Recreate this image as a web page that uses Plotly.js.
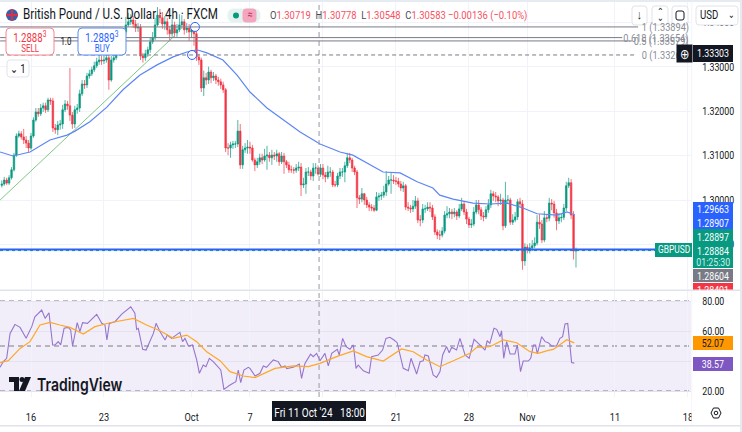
<!DOCTYPE html>
<html>
<head>
<meta charset="utf-8">
<script src="https://cdn.plot.ly/plotly-3.0.1.min.js"></script>
<style>html,body{margin:0;padding:0;background:#fff}</style>
</head>
<body>
<div id="chart"></div>
<script>
// bar index 0 = Mon 16 Sep, six 4h bars per trading day
var firstBar = -12;
var opens = [
1.3033,1.3036,1.3045,1.3038,1.3050,1.3068,1.3101,1.3144,1.3149,1.3142,
1.3135,1.3128,1.3117,1.3144,1.3180,1.3198,1.3194,1.3207,1.3212,1.3203,
1.3225,1.3223,1.3162,1.3158,1.3169,1.3171,1.3203,1.3216,1.3212,1.3191,
1.3171,1.3203,1.3207,1.3239,1.3261,1.3259,1.3279,1.3284,1.3293,1.3302,
1.3311,1.3315,1.3313,1.3315,1.3320,1.3270,1.3315,1.3320,1.3338,1.3356,
1.3360,1.3378,1.3394,1.3401,1.3405,1.3396,1.3387,1.3389,1.3324,1.3320,
1.3329,1.3338,1.3356,1.3365,1.3394,1.3416,1.3410,1.3396,1.3401,1.3383,
1.3374,1.3394,1.3376,1.3383,1.3394,1.3401,1.3383,1.3387,1.3378,1.3383,
1.3374,1.3322,1.3315,1.3252,1.3275,1.3270,1.3288,1.3275,1.3279,1.3270,
1.3266,1.3259,1.3248,1.3117,1.3117,1.3124,1.3126,1.3126,1.3155,1.3079,
1.3113,1.3117,1.3119,1.3117,1.3090,1.3079,1.3086,1.3095,1.3090,1.3099,
1.3101,1.3095,1.3101,1.3099,1.3104,1.3086,1.3099,1.3086,1.3079,1.3068,
1.3068,1.3067,1.3072,1.3074,1.3034,1.3036,1.3063,1.3063,1.3054,1.3072,
1.30719,1.3058,1.3072,1.3056,1.3052,1.3063,1.3063,1.3034,1.3034,1.3054,
1.3063,1.3063,1.3077,1.3095,1.3090,1.3072,1.3063,1.3005,1.3002,1.3014,
1.3000,1.2989,1.2984,1.2982,1.2977,1.3007,1.3009,1.3011,1.3018,1.3036,
1.3045,1.3045,1.3043,1.3042,1.3036,1.3027,1.3032,1.2984,1.2982,1.2980,
1.2986,1.2998,1.2955,1.2955,1.2980,1.2980,1.2984,1.2982,1.2962,1.2928,
1.2921,1.2921,1.2930,1.2966,1.2969,1.2973,1.2969,1.2973,1.2964,1.2980,
1.2991,1.2973,1.2957,1.2944,1.2946,1.2973,1.2989,1.2978,1.2964,1.2962,
1.2978,1.2989,1.3014,1.3009,1.3007,1.2998,1.3000,1.2942,1.3000,1.3000,
1.2950,1.2955,1.2962,1.2996,1.2991,1.2863,1.2894,1.2890,1.2892,1.2897,
1.2903,1.2950,1.2946,1.2910,1.2960,1.2959,1.2993,1.2991,1.2971,1.2953,
1.2960,1.2961,1.2982,1.3032,1.3039,1.2966,1.2885];
var highs = [
1.3044,1.3052,1.3050,1.3056,1.3074,1.3106,1.3150,1.3156,1.3155,1.3160,
1.3144,1.3135,1.3151,1.3186,1.3207,1.3207,1.3216,1.3219,1.3219,1.3230,
1.3230,1.3230,1.3171,1.3178,1.3180,1.3214,1.3225,1.3223,1.3297,1.3198,
1.3212,1.3216,1.3248,1.3270,1.3270,1.3286,1.3293,1.3300,1.3311,1.3320,
1.3329,1.3324,1.3327,1.3331,1.3329,1.3324,1.3329,1.3347,1.3365,1.3372,
1.3387,1.3412,1.3421,1.3418,1.3414,1.3405,1.3398,1.3396,1.3331,1.3338,
1.3345,1.3365,1.3378,1.3410,1.3434,1.3430,1.3423,1.3414,1.3410,1.3392,
1.3407,1.3401,1.3396,1.3418,1.3416,1.3407,1.3398,1.3396,1.3392,1.3390,
1.3381,1.3329,1.3320,1.3291,1.3286,1.3300,1.3293,1.3288,1.3284,1.3277,
1.3273,1.3266,1.3252,1.3128,1.3131,1.3133,1.3133,1.3180,1.3171,1.3122,
1.3128,1.3135,1.3131,1.3124,1.3095,1.3095,1.3104,1.3104,1.3115,1.3122,
1.3108,1.3113,1.3108,1.3113,1.3108,1.3108,1.3106,1.3090,1.3086,1.3077,
1.3074,1.3081,1.3086,1.3083,1.3050,1.3072,1.3074,1.3068,1.3083,1.3083,
1.30778,1.3081,1.3081,1.3063,1.3077,1.3074,1.3068,1.3043,1.3061,1.3072,
1.3072,1.3086,1.3106,1.3106,1.3095,1.3077,1.3068,1.3011,1.3027,1.3016,
1.3007,1.2995,1.2991,1.2989,1.3018,1.3016,1.3018,1.3032,1.3065,1.3054,
1.3061,1.3056,1.3052,1.3050,1.3043,1.3041,1.3036,1.2995,1.2989,1.3000,
1.3009,1.3005,1.2966,1.2991,1.2989,1.2995,1.2995,1.2989,1.2968,1.2934,
1.2932,1.2939,1.2975,1.2986,1.2982,1.2980,1.2982,1.2977,1.2991,1.3005,
1.2998,1.2980,1.2962,1.2957,1.2984,1.3000,1.3000,1.2984,1.2973,1.2986,
1.3002,1.3023,1.3020,1.3018,1.3011,1.3014,1.3005,1.3041,1.3011,1.3005,
1.2968,1.2973,1.3002,1.3005,1.3000,1.2903,1.2900,1.2903,1.2910,1.2916,
1.2966,1.2968,1.2955,1.2975,1.2968,1.3005,1.3002,1.2998,1.2980,1.2971,
1.2970,1.2991,1.3041,1.3050,1.3047,1.2975,1.2893];
var lows = [
1.3028,1.3032,1.3034,1.3034,1.3046,1.3064,1.3097,1.3140,1.3136,1.3126,
1.3117,1.3108,1.3113,1.3140,1.3176,1.3187,1.3189,1.3198,1.3196,1.3198,
1.3214,1.3153,1.3149,1.3146,1.3158,1.3160,1.3198,1.3203,1.3178,1.3160,
1.3162,1.3194,1.3198,1.3234,1.3250,1.3252,1.3273,1.3279,1.3288,1.3297,
1.3304,1.3304,1.3306,1.3309,1.3248,1.3266,1.3309,1.3315,1.3331,1.3349,
1.3354,1.3372,1.3390,1.3394,1.3387,1.3378,1.3378,1.3315,1.3309,1.3313,
1.3322,1.3331,1.3351,1.3360,1.3390,1.3398,1.3385,1.3383,1.3372,1.3358,
1.3367,1.3367,1.3367,1.3378,1.3385,1.3372,1.3376,1.3358,1.3365,1.3347,
1.3313,1.3304,1.3243,1.3234,1.3259,1.3261,1.3263,1.3268,1.3261,1.3257,
1.3250,1.3241,1.3108,1.3101,1.3095,1.3115,1.3117,1.3119,1.3070,1.3070,
1.3106,1.3104,1.3104,1.3086,1.3065,1.3072,1.3079,1.3081,1.3086,1.3068,
1.3086,1.3079,1.3090,1.3086,1.3077,1.3081,1.3059,1.3072,1.3061,1.3061,
1.3059,1.3061,1.3065,1.3009,1.3027,1.3014,1.3054,1.3045,1.3043,1.3059,
1.30548,1.3052,1.3047,1.3040,1.3047,1.3052,1.3029,1.3029,1.3029,1.3047,
1.3052,1.3040,1.3072,1.3083,1.3063,1.3056,1.2982,1.2991,1.2995,1.2989,
1.2982,1.2975,1.2975,1.2973,1.2975,1.2998,1.3000,1.3005,1.3009,1.3032,
1.3014,1.3036,1.3034,1.3029,1.3020,1.3018,1.2977,1.2975,1.2971,1.2973,
1.2980,1.2948,1.2941,1.2948,1.2971,1.2975,1.2973,1.2955,1.2921,1.2912,
1.2910,1.2916,1.2925,1.2959,1.2959,1.2957,1.2961,1.2955,1.2959,1.2975,
1.2966,1.2946,1.2937,1.2937,1.2941,1.2968,1.2968,1.2955,1.2952,1.2957,
1.2971,1.2982,1.2998,1.2995,1.2986,1.2989,1.2932,1.2937,1.2991,1.2944,
1.2944,1.2950,1.2955,1.2984,1.2843,1.2852,1.2880,1.2880,1.2885,1.2892,
1.2898,1.2935,1.2903,1.2905,1.2950,1.2952,1.2977,1.2960,1.2932,1.2946,
1.2950,1.2955,1.2975,1.3027,1.2957,1.2866,1.2848];
var closes = [
1.3036,1.3045,1.3038,1.3050,1.3068,1.3101,1.3144,1.3149,1.3142,1.3135,
1.3128,1.3117,1.3144,1.3180,1.3198,1.3194,1.3207,1.3212,1.3203,1.3225,
1.3223,1.3162,1.3158,1.3169,1.3171,1.3203,1.3216,1.3212,1.3191,1.3171,
1.3203,1.3207,1.3239,1.3261,1.3259,1.3279,1.3284,1.3293,1.3302,1.3311,
1.3315,1.3313,1.3315,1.3320,1.3270,1.3315,1.3320,1.3338,1.3356,1.3360,
1.3378,1.3394,1.3401,1.3405,1.3396,1.3387,1.3389,1.3324,1.3320,1.3329,
1.3338,1.3356,1.3365,1.3394,1.3416,1.3410,1.3396,1.3401,1.3383,1.3374,
1.3394,1.3376,1.3383,1.3394,1.3401,1.3383,1.3387,1.3378,1.3383,1.3374,
1.3322,1.3315,1.3252,1.3275,1.3270,1.3288,1.3275,1.3279,1.3270,1.3266,
1.3259,1.3248,1.3117,1.3117,1.3124,1.3126,1.3126,1.3155,1.3079,1.3113,
1.3117,1.3119,1.3117,1.3090,1.3079,1.3086,1.3095,1.3090,1.3099,1.3101,
1.3095,1.3101,1.3099,1.3104,1.3086,1.3099,1.3086,1.3079,1.3068,1.3068,
1.3067,1.3072,1.3074,1.3034,1.3036,1.3063,1.3063,1.3054,1.3072,1.3072,
1.30583,1.3072,1.3056,1.3052,1.3063,1.3063,1.3034,1.3034,1.3054,1.3063,
1.3063,1.3077,1.3095,1.3090,1.3072,1.3063,1.3005,1.3002,1.3014,1.3000,
1.2989,1.2984,1.2982,1.2977,1.3007,1.3009,1.3011,1.3018,1.3036,1.3045,
1.3045,1.3043,1.3042,1.3036,1.3027,1.3032,1.2984,1.2982,1.2980,1.2986,
1.2998,1.2955,1.2955,1.2980,1.2980,1.2984,1.2982,1.2962,1.2928,1.2921,
1.2921,1.2930,1.2966,1.2969,1.2973,1.2969,1.2973,1.2964,1.2980,1.2991,
1.2973,1.2957,1.2944,1.2946,1.2973,1.2989,1.2978,1.2964,1.2962,1.2978,
1.2989,1.3014,1.3009,1.3007,1.2998,1.3000,1.2942,1.3000,1.3000,1.2950,
1.2955,1.2962,1.2996,1.2991,1.2863,1.2894,1.2890,1.2892,1.2897,1.2903,
1.2950,1.2946,1.2910,1.2960,1.2959,1.2993,1.2991,1.2971,1.2953,1.2960,
1.2961,1.2982,1.3032,1.3039,1.2966,1.2885,1.28884];

var maBars = [-12.7,-7.4,-0.4,7.8,14.8,18.1,24.2,31.2,37.8,44.8,51.8,58.4,64.1,68.2,72.3,78.9,84.7,90,97,103.6,110.6,118.8,127,132.3,138.1,144.7,151.7,158.7,165.2,168,173.5,181.7,188.7,195.6,202.2,208,216.2,220.3,223.6];
var maValues = [1.3108,1.3099,1.3108,1.3135,1.3146,1.3155,1.3176,1.3209,1.3248,1.3281,1.3304,1.3322,1.3333,1.3338,1.3331,1.3315,1.3281,1.3243,1.3207,1.3180,1.3153,1.3126,1.3108,1.3101,1.3083,1.3063,1.3061,1.3041,1.3027,1.3011,1.3002,1.2993,1.2991,1.2993,1.2982,1.2969,1.2966,1.2973,1.29663];

var rsiBars = [-12.7,-11.4,-10,-8.6,-6.6,-4.5,-2,0.3,1.6,4.4,5.8,7.4,8.9,9.9,11.2,12.2,13.6,15.3,16.3,17.1,19,20.1,21.2,23.2,27,29.1,30.4,31.2,32.2,34.5,37.3,41,42.7,43.4,44.1,45.9,47.3,50.3,51.4,53,55.1,56,57.8,61.2,62.3,63.3,64.7,66.4,68.1,69.2,70.8,71.9,73.3,74.9,78,79.3,81.8,84.2,85.2,86.2,87.5,89.3,
90,92.1,94.1,95.5,96.8,99.6,101.6,103,104.4,105.1,107.8,110.3,111.2,112.6,114.9,116,117.4,118.8,120.8,122.2,123.6,125.9,126.7,128.1,129.5,131.1,132.5,133.6,134.5,136.6,139,140,142.7,144.5,145.9,147.5,149.2,150.5,153,155.1,156.2,158.5,159.9,161.2,161.9,163.3,165.3,166.7,168.1,169.2,170.8,171.9,172.9,174.9,176.3,178.4,180.1,182.1,184.5,186.6,187.5,188.6,
190.3,191.4,192.8,193.4,194.3,195.5,196.9,198.9,199.9,201.2,202.3,204.4,205.4,206.5,207.4,208.1,209.9,211.3,212.6,214,216,217.4,218.5,219.5,220.6,222.2,223.3];
var rsiValues = [35.8,39.6,41.8,58.4,64.4,62.4,55.1,62.9,69.5,74,68.4,72.2,50.7,50.7,52.9,50.7,61.8,62.4,60.7,50,65.6,59.6,65.6,65.1,71.1,65.1,64,54,65.1,66.2,71.3,76.2,71.8,61.1,61.8,47.8,47.3,58.4,65.1,59.6,54,57.3,55.1,59.1,52.9,55.1,50,50.7,40.7,31.8,37.3,36.2,41.8,39.6,34,21.1,24,26.2,34,25.6,34,35.8,
35.1,30,31.8,36.7,35.8,40.7,39.6,35.8,36.7,34.9,35.8,38,28.4,38.4,44.6,42.9,45.1,40.2,45.1,36.7,45.1,47.8,44,55.1,49.6,47.8,50.7,35.1,37.3,33.5,31.8,42.9,44,47.3,55.1,55.8,54,52.2,35.1,33.5,41.8,31.3,39.5,40.2,44,43.3,30.7,29.1,32.9,44,49.6,45.5,49.1,47.3,55.1,44,41.8,54.4,50.7,47.3,53.5,51.8,
61.8,61.1,56.2,60.2,41.8,52.9,44.7,44.7,50.7,32.9,40,40,41.8,50.7,50.7,44.7,56.2,52.9,52.2,50,50,55.1,56.2,64.7,65.1,38.9,38.57];
var rsiMaBars = [-12.7,-9.3,-4.5,-0.4,3.7,7.8,11.9,16,21.5,26.3,32.5,42.1,47.5,53,58.5,64,68.1,72.2,77.7,81.8,87.3,92.1,100.3,107.8,114,118.8,125.6,132.5,137.9,144.8,152.3,157.1,162.6,168.1,173.6,180.4,183.2,188.6,194.1,199.6,205.1,208.5,212.6,214.7,220.2,223.3];
var rsiMaValues = [38.9,40.2,48.4,52.9,64,65.8,64,62.4,58,62.9,65.5,68.4,64,60.2,55.1,57.3,52.9,46.2,40.2,32.9,30,28.9,35.1,36.7,36.2,38.4,42.9,46.7,42.9,40,48,46.2,40.7,36.2,40.2,45.1,49.1,49.5,54,52.2,46.2,45.1,47.1,47.7,54.2,52.07];

var tickBars = [0,30,66,90,120,150,180,204,240,270];
var tickLabels = ['16','23','Oct','7','','21','28','Nov','11','18'];
var priceTicks = [1.29,1.30,1.31,1.32,1.33,1.34];
var rsiTicks = [20,40,60,80];
var rsiGuides = [80,50,20];

var fibLevels = [1.33894,1.33654,1.33579,1.33263];
var fibNames = ['1','0.618','0.5','0'];
var fibEndBars = [249.5,243,247,249];
var trendBars = [-12.7,58.9];
var trendValues = [1.3000,1.3369];
var lastPrice = 1.28884;
var crosshairBar = 118.4;

var bars = opens.map(function(o, i) { return firstBar + i; });
var green = '#089981', red = '#f23645', ink = '#131722', blue = '#2962ff', grey = '#787b86';
var uiFont = 'Roboto, sans-serif';
var squeeze = 0.8; // reference text is horizontally condensed

// pixel helpers for the platform furniture around the chart
var plotW = 691, plotH = 397;
function px(x) { return x / plotW; }
function py(y) { return 1 - y / plotH; }

var shapes = [], notes = [];

function box(x0, y0, x1, y1, fill, stroke) {
  shapes.push({type: 'rect', xref: 'paper', yref: 'paper', x0: px(x0), x1: px(x1), y0: py(y0), y1: py(y1),
    fillcolor: fill, line: {color: stroke || fill, width: stroke ? 1 : 0}, layer: 'above'});
}
function rbox(x0, y0, x1, y1, r, fill, stroke) {
  var d = 'M' + px(x0 + r) + ',' + py(y0) + ' L' + px(x1 - r) + ',' + py(y0) + ' Q' + px(x1) + ',' + py(y0) + ' ' + px(x1) + ',' + py(y0 + r) +
    ' L' + px(x1) + ',' + py(y1 - r) + ' Q' + px(x1) + ',' + py(y1) + ' ' + px(x1 - r) + ',' + py(y1) +
    ' L' + px(x0 + r) + ',' + py(y1) + ' Q' + px(x0) + ',' + py(y1) + ' ' + px(x0) + ',' + py(y1 - r) +
    ' L' + px(x0) + ',' + py(y0 + r) + ' Q' + px(x0) + ',' + py(y0) + ' ' + px(x0 + r) + ',' + py(y0) + ' Z';
  shapes.push({type: 'path', xref: 'paper', yref: 'paper', path: d, fillcolor: fill, line: {color: stroke, width: 1}, layer: 'above'});
}
function text(x, y, str, size, color, anchor, extra) {
  var n = {xref: 'paper', yref: 'paper', x: px(x), y: py(y), text: str, showarrow: false,
    xanchor: anchor || 'center', align: anchor || 'center', yanchor: 'middle', borderpad: 0,
    font: {family: uiFont, size: size, color: color}};
  for (var k in (extra || {})) n[k] = extra[k];
  notes.push(n);
}
function circle(cx, cy, r, fill, stroke) {
  shapes.push({type: 'circle', xref: 'paper', yref: 'paper', x0: px(cx - r), x1: px(cx + r), y0: py(cy - r), y1: py(cy + r),
    fillcolor: fill, line: {color: stroke || fill, width: stroke ? 1 : 0}, layer: 'above'});
}

// rsi band and guides
shapes.push({type: 'rect', xref: 'paper', yref: 'y2', x0: 0, x1: 1, y0: rsiGuides[2], y1: rsiGuides[0],
  fillcolor: 'rgba(126,87,194,0.1)', line: {width: 0}, layer: 'below'});
rsiGuides.forEach(function(v) {
  shapes.push({type: 'line', xref: 'paper', yref: 'y2', x0: 0, x1: 1, y0: v, y1: v,
    line: {color: grey, width: 1, dash: '5px,4px'}, layer: 'below'});
});
// last price line
shapes.push({type: 'line', xref: 'paper', yref: 'y', x0: 0, x1: 1, y0: lastPrice - 0.00022, y1: lastPrice - 0.00022,
  line: {color: green, width: 1, dash: 'dot'}, layer: 'above'});
shapes.push({type: 'line', xref: 'paper', yref: 'y', x0: 0, x1: 1, y0: lastPrice, y1: lastPrice,
  line: {color: blue, width: 2}, layer: 'above'});
// crosshair
shapes.push({type: 'line', xref: 'x', yref: 'paper', x0: crosshairBar, x1: crosshairBar, y0: 0, y1: 1,
  line: {color: '#9598a1', width: 1, dash: '5px,4px'}, layer: 'above'});
// pane separators and window edges
box(0, 289.5, 742, 291, '#e0e3eb');
box(0, 0, 742, 2, '#e6ebf2');
box(691.5, 0, 692.2, 425, '#eef0f4');
box(692, 398, 742, 425, '#ffffff');
box(0, 425, 742, 426.5, '#e0e3eb');
box(740, 0, 742, 432, '#e6ebf2');

// fibonacci levels
fibLevels.forEach(function(v, i) {
  shapes.push({type: 'line', xref: 'x', yref: 'y', x0: -12.7, x1: fibEndBars[i], y0: v, y1: v,
    line: {color: grey, width: 1, dash: i === 3 ? '4px,3px' : 'solid'}, layer: 'above'});
  text(690, 200 - (v - 1.30) * 4440, fibNames[i] + ' (' + v.toFixed(5) + ')', 11.5, '#8a8d96', 'right');
});

// header
text(22, 15, 'British Pound / U.S. Dollar · 4h · FXCM', 14.5, ink, 'left');
circle(12, 15, 6, '#3a5fa8');
box(6, 14, 18, 16, '#d8324a');
box(11, 9, 13, 21, '#d8324a');
rbox(228, 9, 260, 22, 6, '#e4f3ef', '#e4f3ef');
circle(236, 15.5, 3, green);
rbox(243, 9, 256, 22, 3, '#f3a6bd', '#f3a6bd');
text(249.5, 15, '≈', 11, '#b3335a');
var ohlc = [['O', '1.30719'], ['H', '1.30778'], ['L', '1.30548'], ['C', '1.30583']];
var ohlcText = ohlc.map(function(p) {
  return '<span style="color:' + '#4a4d57' + '">' + p[0] + '</span>' + p[1];
}).join('  ') + ' −0.00136 (−0.10%)';
text(269, 15, ohlcText, 11.8, '#f7525f', 'left');

// sell / buy
rbox(6, 28, 54, 55, 4, '#ffffff', '#f7858f');
text(30, 37, '1.2888<sup>3</sup>', 12, red);
text(30, 48, 'SELL', 10, red);
text(66, 42, '1.0', 10, ink);
rbox(78, 28, 126, 55, 4, '#ffffff', '#5b8cf5');
text(102, 37, '1.2889<sup>3</sup>', 12, blue);
text(102, 48, 'BUY', 10, blue);
rbox(7, 60, 29, 77, 3, '#ffffff', '#e0e3eb');
text(18, 69, '⌄ 1', 12, ink);

// top right buttons
rbox(632, 6, 647, 25, 3, '#ffffff', '#e0e3eb');
text(639.5, 15, '↓', 13, ink);
rbox(652, 6, 668, 25, 3, '#ffffff', '#e0e3eb');
text(660, 18, '⌄', 10, ink);
text(660, 12, '⌃', 10, ink);
rbox(672, 6, 688, 25, 3, '#ffffff', '#e0e3eb');
rbox(676, 11, 684, 20, 2, 'rgba(0,0,0,0)', ink);
rbox(696, 6, 738, 25, 3, '#ffffff', '#e0e3eb');
text(699, 15, 'USD', 12, ink, 'left');
text(731, 15, '⌄', 10, ink);

// price tags
function tag(y0, y1, fill) { box(693, y0, 733, y1, fill); }
box(677, 45, 692, 62, ink);
text(684.5, 53.5, '⊕', 14, '#ffffff', 'center', {bgcolor: ink, width: 15, height: 17});
tag(45, 62, ink);
text(713, 53.5, '1.33303', 11, '#ffffff');
tag(202, 229, blue);
text(713, 209, '1.29663', 11, '#ffffff');
text(713, 223, '1.28907', 11, '#ffffff');
tag(229, 268, green);
text(713, 237, '1.28897', 11, '#ffffff');
text(713, 251, lastPrice.toFixed(5), 11, '#ffffff');
text(713, 262, '01:25:30', 11, '#cdeee6');
tag(269, 282, '#787b86');
text(713, 276, '1.28604', 11, '#ffffff');
tag(283, 289.5, red);
text(713, 283, '1.28401', 11, '#ffffff', 'center', {yanchor: 'top', height: 7, valign: 'top'});
box(655, 243, 692, 257, green);
text(673.5, 250, 'GBPUSD', 10.5, '#ffffff');
box(693, 336, 733, 350, '#ff9800');
text(713, 343, '52.07', 11, ink);
box(693, 357, 733, 371, '#7e57c2');
text(713, 364, '38.57', 11, '#ffffff');

// date label and logo
box(272, 401, 366, 421, ink);
text(319, 412, "Fri 11 Oct '24 &nbsp;&nbsp;18:00", 12.5, '#ffffff');
function logoPath(d) {
  shapes.push({type: 'path', xref: 'paper', yref: 'paper', path: d, fillcolor: ink, line: {width: 0}, layer: 'above'});
}
logoPath('M' + px(9) + ',' + py(377) + ' L' + px(19) + ',' + py(377) + ' L' + px(19) + ',' + py(391) + ' L' + px(14) + ',' + py(391) + ' L' + px(14) + ',' + py(382) + ' L' + px(9) + ',' + py(382) + ' Z');
logoPath('M' + px(25) + ',' + py(377) + ' L' + px(31) + ',' + py(377) + ' L' + px(25) + ',' + py(391) + ' L' + px(19) + ',' + py(391) + ' Z');
circle(22, 379.5, 2.5, ink);
text(36, 384, 'TradingView', 17.5, ink, 'left', {font: {family: 'Inter, sans-serif', size: 17.5, color: ink, weight: 600}});

// settings gear
shapes.push({type: 'path', xref: 'paper', yref: 'paper', layer: 'above', line: {color: ink, width: 1},
  path: 'M' + px(711) + ',' + py(413) + ' L' + px(713.5) + ',' + py(408) + ' L' + px(718.5) + ',' + py(408) + ' L' + px(721) + ',' + py(413) + ' L' + px(718.5) + ',' + py(418) + ' L' + px(713.5) + ',' + py(418) + ' Z'});
circle(716, 413, 1.8, 'rgba(0,0,0,0)', ink);

// fib anchors
function anchor(bar, price) {
  return {x: bar, y: price};
}
var anchors = [anchor(67.4, fibLevels[0]), anchor(66.2, fibLevels[3])];

var traces = [
  {type: 'candlestick', x: bars, open: opens, high: highs, low: lows, close: closes,
    increasing: {line: {color: green, width: 0.7}, fillcolor: green},
    decreasing: {line: {color: red, width: 0.7}, fillcolor: red},
    whiskerwidth: 0, hoverinfo: 'skip', xaxis: 'x', yaxis: 'y', showlegend: false},
  {type: 'scatter', mode: 'lines', x: trendBars, y: trendValues, line: {color: '#81c784', width: 1}, hoverinfo: 'skip', yaxis: 'y', showlegend: false},
  {type: 'scatter', mode: 'lines', x: maBars, y: maValues, line: {color: '#5d86f5', width: 1.2}, hoverinfo: 'skip', yaxis: 'y', showlegend: false},
  {type: 'scatter', mode: 'lines', x: rsiBars, y: rsiValues, line: {color: '#9575cd', width: 1.1}, hoverinfo: 'skip', yaxis: 'y2', showlegend: false},
  {type: 'scatter', mode: 'lines', x: rsiMaBars, y: rsiMaValues, line: {color: '#ffa726', width: 1.2}, hoverinfo: 'skip', yaxis: 'y2', showlegend: false},
  {type: 'scatter', mode: 'markers', x: anchors.map(function(a) { return a.x; }), y: anchors.map(function(a) { return a.y; }),
    marker: {size: 9, color: '#ffffff', line: {color: blue, width: 1}}, hoverinfo: 'skip', yaxis: 'y', showlegend: false}
];

var layout = {
  width: 742, height: 432,
  margin: {l: 0, r: 51, t: 0, b: 35},
  paper_bgcolor: '#ffffff', plot_bgcolor: '#ffffff',
  showlegend: false, dragmode: false, boxgap: 0.12,
  xaxis: {
    range: [-12.74, 271.27], anchor: 'y2', rangeslider: {visible: false},
    tickmode: 'array', tickvals: tickBars, ticktext: tickLabels,
    tickfont: {family: uiFont, size: 11.5, color: ink},
    ticks: 'outside', ticklen: 9, tickcolor: 'rgba(0,0,0,0)',
    showgrid: true, gridcolor: '#f0f3fa', zeroline: false, showline: false
  },
  yaxis: {
    domain: [108 / 397, 1], range: [1.279975, 1.345], anchor: 'x', side: 'right',
    tickmode: 'array', tickvals: priceTicks, ticktext: priceTicks.map(function(v) { return v.toFixed(5); }),
    tickfont: {family: uiFont, size: 11, color: ink},
    ticks: 'outside', ticklen: 8, tickcolor: 'rgba(0,0,0,0)',
    showgrid: true, gridcolor: '#f0f3fa', zeroline: false, showline: false
  },
  yaxis2: {
    domain: [0, 106 / 397], range: [16, 86.67], anchor: 'x', side: 'right',
    tickmode: 'array', tickvals: rsiTicks, ticktext: rsiTicks.map(function(v) { return v.toFixed(2); }),
    tickfont: {family: uiFont, size: 11, color: ink},
    ticks: 'outside', ticklen: 8, tickcolor: 'rgba(0,0,0,0)',
    showgrid: true, gridcolor: '#e4e1f0', zeroline: false, showline: false
  },
  shapes: shapes,
  annotations: notes
};

Plotly.newPlot('chart', traces, layout, {displayModeBar: false, staticPlot: true}).then(function(gd) {
  // condense all labels to the reference's narrow glyphs
  gd.querySelectorAll('.annotation-text, .xtick text, .ytick text, .y2tick text').forEach(function(el) {
    var len = el.getComputedTextLength();
    if (len > 0) {
      el.setAttribute('textLength', len * squeeze);
      el.setAttribute('lengthAdjust', 'spacingAndGlyphs');
    }
  });
});
</script>
</body>
</html>
